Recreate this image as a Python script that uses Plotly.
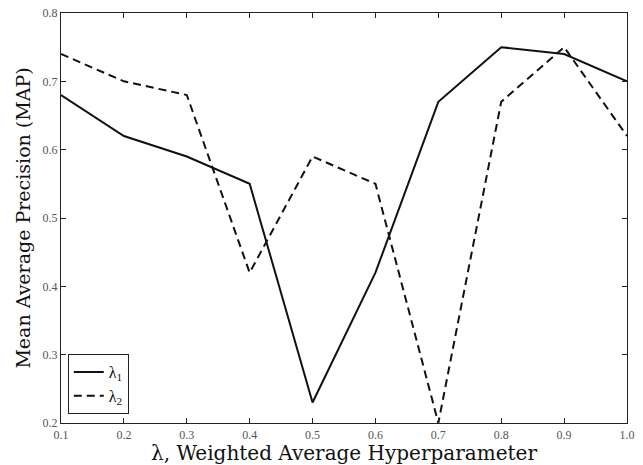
import plotly.graph_objects as go

lambdas = [0.1, 0.2, 0.3, 0.4, 0.5, 0.6, 0.7, 0.8, 0.9, 1.0]
map_lambda1 = [0.68, 0.62, 0.59, 0.55, 0.23, 0.42, 0.67, 0.75, 0.74, 0.70]
map_lambda2 = [0.74, 0.70, 0.68, 0.42, 0.59, 0.55, 0.20, 0.67, 0.75, 0.62]
series_names = ["λ<sub>1</sub>", "λ<sub>2</sub>"]
x_ticks = [0.1, 0.2, 0.3, 0.4, 0.5, 0.6, 0.7, 0.8, 0.9, 1.0]
y_ticks = [0.2, 0.3, 0.4, 0.5, 0.6, 0.7, 0.8]

SERIF = "Liberation Serif, DejaVu Serif, serif"
TITLE_FONT = "DejaVu Serif, Liberation Serif, serif"

fig = go.Figure()
fig.add_trace(go.Scatter(x=lambdas, y=map_lambda1, mode="lines", name=series_names[0],
                         line=dict(color="#111111", width=2, dash="solid")))
fig.add_trace(go.Scatter(x=lambdas, y=map_lambda2, mode="lines", name=series_names[1],
                         line=dict(color="#111111", width=2, dash="8px,5px")))

axis_common = dict(showgrid=False, zeroline=False, showline=True, linecolor="#222222",
                   linewidth=1.2, mirror="ticks", ticks="inside", ticklen=5, automargin=False,
                   tickcolor="#222222", tickfont=dict(family=SERIF, size=12, color="#555555"))

fig.update_xaxes(range=[0.1, 1.0], tickvals=x_ticks, tickformat=".1f",
                 title=dict(text="λ, Weighted Average Hyperparameter",
                            font=dict(family=TITLE_FONT, size=20, color="#111111"), standoff=6),
                 **axis_common)
fig.update_yaxes(range=[0.2, 0.8], tickvals=y_ticks, tickformat=".1f",
                 title=dict(text="Mean Average Precision (MAP)",
                            font=dict(family=TITLE_FONT, size=19, color="#111111"), standoff=6),
                 **axis_common)

fig.update_layout(
    width=643, height=465,
    margin=dict(l=61, r=16, t=13, b=42),
    paper_bgcolor="white", plot_bgcolor="white",
    legend=dict(x=0.012, y=0.022, xanchor="left", yanchor="bottom",
                bordercolor="#222222", borderwidth=1, bgcolor="white",
                font=dict(family=SERIF, size=16, color="#111111"),
                tracegroupgap=2),
    showlegend=True,
)

fig.write_html("out.html", config={"displayModeBar": False},
               post_script="document.body.style.margin='0';document.body.style.overflow='hidden';")
